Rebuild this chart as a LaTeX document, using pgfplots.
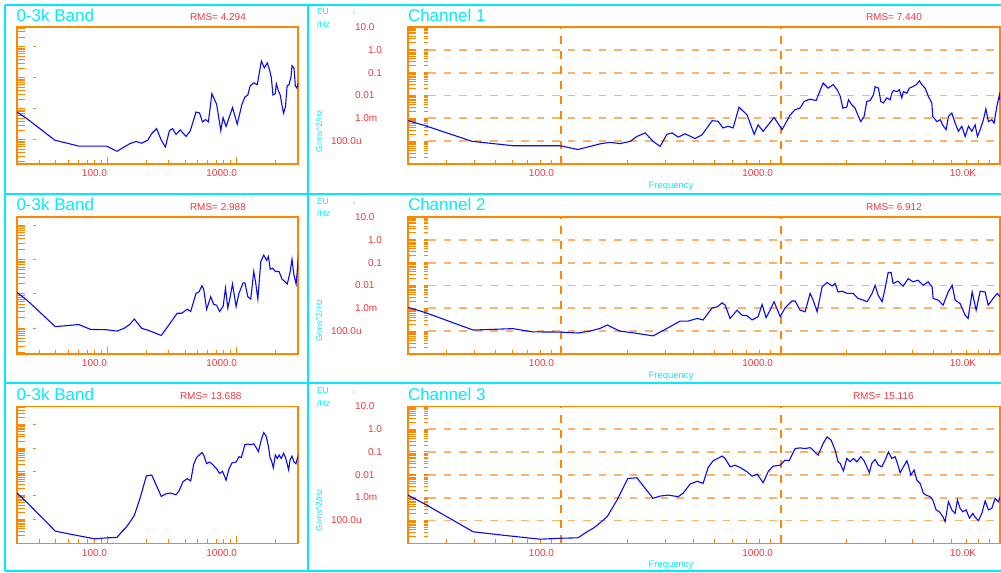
\documentclass[border=0pt]{standalone}
\usepackage{pgfplots}
\usepackage{pgfplotstable}
\pgfplotsset{compat=1.18}
\usepackage{fontspec}
\setmainfont{Liberation Sans}
\definecolor{cy}{RGB}{0,235,255}
\definecolor{rd}{RGB}{245,55,60}
\definecolor{orA}{RGB}{255,135,0}
\definecolor{orG}{RGB}{255,178,105}
\definecolor{bl}{RGB}{10,10,240}
\newcommand\fs[1]{\fontsize{#1bp}{#1bp}\selectfont}

\pgfplotstableread{
f p
20 7.9e-4
23.9 4.8e-4
39.2 9.8e-5
60.2 6.3e-5
98.6 6.3e-5
119 4.3e-5
150 7.6e-5
167 8.9e-5
185 7.8e-5
206 9.8e-5
221 1.6e-4
241 2.3e-4
262 9.8e-5
282 5.9e-5
303 2.0e-4
320 2.3e-4
341 1.5e-4
367 2.1e-4
407 1.3e-4
438 1.9e-4
487 7.9e-4
518 7.4e-4
546 3.8e-4
576 4.5e-4
607 3.8e-4
646 3.1e-3
703 1.4e-3
757 2.0e-4
789 5.2e-4
832 2.7e-4
933 1.1e-3
1015 3.2e-4
1104 1.4e-3
1164 2.4e-3
1226 2.8e-3
1279 5.5e-3
1362 6.9e-3
1451 6.0e-3
1561 3.5e-2
1645 2.1e-2
1734 3.0e-2
1808 1.8e-2
1866 9.8e-3
1920 2.8e-3
2002 3.1e-3
2037 6.5e-3
2110 3.9e-3
2184 2.8e-3
2262 1.2e-3
2319 7.2e-4
2400 1.2e-3
2470 5.5e-3
2557 6.0e-3
2648 1.07e-2
2695 2.45e-2
2790 2.1e-2
2861 5.5e-3
2940 4.7e-3
3047 7.8e-3
3155 6.5e-3
3212 1.26e-2
3266 1.66e-2
3385 1.48e-2
3478 1.78e-2
3567 7.8e-3
3628 1.48e-2
3760 1.26e-2
3864 2.1e-2
4004 2.45e-2
4146 2.95e-2
4291 4.4e-2
4400 2.95e-2
4556 2.1e-2
4716 9.1e-3
4887 4.7e-3
4938 1.2e-3
5151 7.2e-4
5333 8.7e-4
5521 4.5e-4
5680 3.2e-4
5819 1.2e-3
6030 1.7e-3
6241 6.2e-4
6463 2.7e-4
6697 4.5e-4
6934 1.6e-4
7178 4.5e-4
7440 2.7e-4
7700 5.2e-4
7889 1.6e-4
8118 3.2e-4
8403 8.7e-4
8618 2.6e-3
8855 7.2e-4
9176 8.7e-4
9400 6.2e-4
9670 3.3e-3
9940 1.07e-2
10000 6.5e-3
}\chA

\pgfplotstableread{
f p
20 1.1e-3
23.9 6.6e-4
39.6 1.12e-4
48.8 1.2e-4
60.2 1.29e-4
74.3 9.3e-5
98.6 9.1e-5
119 8.3e-5
135 1.0e-4
150 1.32e-4
162 1.86e-4
185 1.0e-4
212 8.5e-5
262 6.2e-5
303 1.32e-4
348 2.75e-4
378 2.75e-4
416 3.6e-4
443 3.1e-4
487 1.05e-3
513 1.15e-3
541 1.74e-3
558 1.38e-3
588 3.6e-4
633 8.3e-4
667 5.0e-4
703 4.7e-4
741 3.1e-4
789 4.3e-4
823 1.48e-3
858 3.9e-4
895 8.3e-4
933 1.95e-3
995 4.3e-4
1047 1.05e-3
1127 2.1e-3
1164 2.1e-3
1226 8.3e-4
1292 7.1e-4
1362 4.5e-3
1406 2.3e-3
1466 7.1e-4
1545 8.7e-3
1628 1.35e-2
1716 9.5e-3
1771 1.23e-2
1827 5.2e-3
1906 5.6e-3
2009 4.5e-3
2140 4.5e-3
2255 2.7e-3
2376 2.3e-3
2478 1.95e-3
2611 4.5e-3
2695 1.02e-2
2781 3.8e-3
2900 1.95e-3
2993 7.4e-3
3090 3.7e-2
3188 3.7e-2
3255 1.23e-2
3430 1.55e-2
3615 9.3e-3
3810 2.0e-2
4016 1.45e-2
4233 1.7e-2
4462 1.02e-2
4700 1.45e-2
4903 8.7e-3
4955 2.7e-3
5223 2.3e-3
5504 1.38e-3
5800 5.2e-3
6050 1.02e-2
6241 2.3e-3
6577 1.62e-3
6934 5.0e-4
7154 3.6e-4
7464 5.2e-3
7785 8.3e-4
8118 5.6e-3
8551 5.2e-3
8828 1.38e-3
9303 2.7e-3
9700 4.5e-3
10000 3.2e-3
}\chB

\pgfplotstableread{
f p
20 1.29e-3
23.9 5.2e-4
39.6 3.2e-5
52.5 2.34e-5
80 1.51e-5
98.6 1.66e-5
119 1.74e-5
131 3.2e-5
140 4.6e-5
150 7.8e-5
162 1.48e-4
179.5 7.9e-4
201 6.9e-3
221 7.4e-3
241 2.57e-3
262 9.3e-4
282 1.17e-3
307 1.29e-3
341 1.1e-3
359 1.55e-3
386 3.9e-3
416 5.2e-3
443 4.2e-3
467 2.1e-2
492 4.1e-2
541 6.6e-2
558 5.2e-2
588 2.24e-2
619 2.63e-2
653 2.1e-2
703 1.35e-2
741 8.7e-3
781 1.07e-2
832 4.5e-3
876 1.35e-2
923 2.4e-2
995 2.63e-2
1047 4.4e-2
1092 4.1e-2
1164 0.141
1226 0.151
1292 0.141
1362 0.155
1406 0.12
1481 7.2e-2
1561 0.234
1628 0.457
1698 0.331
1771 0.12
1827 3.7e-2
1866 3.2e-2
1932 1.48e-2
2002 5.2e-2
2073 3.7e-2
2146 5.2e-2
2224 3.7e-2
2319 6.2e-2
2400 4.1e-2
2470 2.24e-2
2538 1.23e-2
2603 3.2e-2
2695 4.7e-2
2790 2.63e-2
2891 2.24e-2
2993 4.4e-2
3099 0.1
3212 5.2e-2
3325 6.2e-2
3406 3.2e-2
3504 1.23e-2
3628 2.24e-2
3760 4.1e-2
3823 2.63e-2
3920 9.8e-3
4059 1.62e-2
4175 5.9e-3
4323 4.2e-3
4475 1.55e-3
4604 1.29e-3
4800 1.1e-3
4938 7.9e-4
5113 2.9e-4
5294 2.4e-4
5486 1.48e-4
5620 8.9e-5
5819 6.6e-4
6030 2.9e-4
6241 2.04e-4
6395 7.9e-4
6577 3.4e-4
6767 2.4e-4
7007 2.9e-4
7253 1.26e-4
7516 2.04e-4
7700 1.38e-4
7975 9.8e-5
8265 2.04e-4
8555 7.2e-4
8855 2.9e-4
9176 3.4e-4
9500 9.3e-4
9835 6.6e-4
10000 1.1e-3
}\chC

\tikzset{
  tk/.style={draw=orA, line width=1bp},
  gh/.style={draw=orG, line width=1.8bp, dash pattern=on 7.5bp off 8bp},
  gv/.style={draw=orA, line width=1.7bp, dash pattern=on 8bp off 7bp},
  lab/.style={inner sep=0pt, outer sep=0pt}
}

\newcommand\ytA[1]{\draw[tk] (axis cs:20,1e#1)--++(8bp,0bp) (axis cs:20,2e#1)--++(8bp,0bp) (axis cs:20,3e#1)--++(8bp,0bp) (axis cs:20,4e#1)--++(8bp,0bp) (axis cs:20,5e#1)--++(8bp,0bp) (axis cs:20,6e#1)--++(8bp,0bp) (axis cs:20,7e#1)--++(8bp,0bp) (axis cs:20,8e#1)--++(8bp,0bp) (axis cs:20,9e#1)--++(8bp,0bp);}
\newcommand\ytB[1]{\draw[tk] ([xshift=16bp]axis cs:20,1e#1)--++(4bp,0bp) ([xshift=16bp]axis cs:20,2e#1)--++(4bp,0bp) ([xshift=16bp]axis cs:20,3e#1)--++(4bp,0bp) ([xshift=16bp]axis cs:20,4e#1)--++(4bp,0bp) ([xshift=16bp]axis cs:20,5e#1)--++(4bp,0bp) ([xshift=16bp]axis cs:20,6e#1)--++(4bp,0bp) ([xshift=16bp]axis cs:20,7e#1)--++(4bp,0bp) ([xshift=16bp]axis cs:20,8e#1)--++(4bp,0bp) ([xshift=16bp]axis cs:20,9e#1)--++(4bp,0bp);}
\newcommand\ydec[1]{\draw[tk] ([xshift=16bp]axis cs:20,1e#1)--++(2.5bp,0bp);}
\newcommand\xtk[2]{\draw[tk] ({axis cs:#1,1}|-{rel axis cs:0,0})--++(0bp,#2bp);}
\newcommand\xtL{\xtk{30}{4}\xtk{40}{4}\xtk{50}{4}\xtk{60}{4}\xtk{70}{4}\xtk{80}{4}\xtk{90}{4}\xtk{100}{7}\xtk{200}{4}\xtk{300}{4}\xtk{400}{4}\xtk{500}{4}\xtk{600}{4}\xtk{700}{4}\xtk{800}{4}\xtk{900}{4}\xtk{1000}{7}\xtk{2000}{4}\xtk{3000}{4}}
\newcommand\xtR{\xtk{30}{4}\xtk{40}{4}\xtk{50}{4}\xtk{60}{4}\xtk{70}{4}\xtk{80}{4}\xtk{90}{4}\xtk{200}{4}\xtk{300}{4}\xtk{400}{4}\xtk{500}{4}\xtk{600}{4}\xtk{700}{4}\xtk{800}{4}\xtk{900}{4}\xtk{2000}{4}\xtk{3000}{4}\xtk{4000}{4}\xtk{5000}{4}\xtk{6000}{4}\xtk{7000}{4}\xtk{8000}{4}\xtk{9000}{4}}
\newcommand\hg[1]{\draw[gh] ({rel axis cs:0,0}|-{axis cs:20,#1}) ++(20bp,0bp) -- ({rel axis cs:1,0}|-{axis cs:20,#1});}
\newcommand\gridR{\hg{1}\hg{0.1}\hg{0.01}\hg{0.001}\hg{0.0001}%
  \draw[gv] ({axis cs:100,1}|-{rel axis cs:0,0})--({axis cs:100,1}|-{rel axis cs:0,1});%
  \draw[gv] ({axis cs:1000,1}|-{rel axis cs:0,0})--({axis cs:1000,1}|-{rel axis cs:0,1});}

\begin{document}
\begin{tikzpicture}[x=1bp,y=1bp]
\path[use as bounding box] (0,0) rectangle (1001,573);

% frame
\draw[cy, line width=1.8bp] (5,568) -- (1001,568);
\draw[cy, line width=1.8bp] (5,568) -- (5,2);
\draw[cy, line width=1.8bp] (5,2) -- (1001,2);
\draw[cy, line width=1.8bp] (308,568) -- (308,2);
\draw[cy, line width=1.8bp] (5,378.7) -- (1001,378.7);
\draw[cy, line width=1.8bp] (5,189.6) -- (1001,189.6);

% ---- row 1
\begin{axis}[xmode=log, ymode=log, scale only axis, anchor=south west, xtick=\empty, ytick=\empty, major tick length=0pt, minor tick length=0pt, axis line style={draw=orA, line width=1.3bp}, width=281bp, height=137bp, xmin=20, xmax=3000, at={(17bp,409bp)}, ymin=1.67e-5, ymax=0.435]
\pgfplotsinvokeforeach{-5,-4,-3,-2,-1}{\ytA{#1}}
\pgfplotsinvokeforeach{-4,-3,-2,-1}{\ydec{#1}}
\xtL
\addplot[draw=bl, line width=1.1bp, mark=none] table[x=f,y=p] {\chA};
\end{axis}
\begin{axis}[xmode=log, ymode=log, scale only axis, anchor=south west, xtick=\empty, ytick=\empty, major tick length=0pt, minor tick length=0pt, axis line style={draw=orA, line width=1.3bp}, width=592bp, height=137bp, xmin=20, xmax=10000, ymin=1e-5, ymax=10, at={(408bp,409bp)}]
\gridR
\pgfplotsinvokeforeach{-5,-4,-3,-2,-1,0}{\ytA{#1}\ytB{#1}}
\xtR
\addplot[draw=bl, line width=1.1bp, mark=none] table[x=f,y=p] {\chA};
\end{axis}

% ---- row 2
\begin{axis}[xmode=log, ymode=log, scale only axis, anchor=south west, xtick=\empty, ytick=\empty, major tick length=0pt, minor tick length=0pt, axis line style={draw=orA, line width=1.3bp}, width=281bp, height=137bp, xmin=20, xmax=3000, at={(17bp,219bp)}, ymin=1.79e-5, ymax=0.174]
\pgfplotsinvokeforeach{-5,-4,-3,-2,-1}{\ytA{#1}}
\pgfplotsinvokeforeach{-4,-3,-2,-1}{\ydec{#1}}
\xtL
\addplot[draw=bl, line width=1.1bp, mark=none] table[x=f,y=p] {\chB};
\end{axis}
\begin{axis}[xmode=log, ymode=log, scale only axis, anchor=south west, xtick=\empty, ytick=\empty, major tick length=0pt, minor tick length=0pt, axis line style={draw=orA, line width=1.3bp}, width=592bp, height=137bp, xmin=20, xmax=10000, ymin=1e-5, ymax=10, at={(408bp,219bp)}]
\gridR
\pgfplotsinvokeforeach{-5,-4,-3,-2,-1,0}{\ytA{#1}\ytB{#1}}
\xtR
\addplot[draw=bl, line width=1.1bp, mark=none] table[x=f,y=p] {\chB};
\end{axis}

% ---- row 3
\begin{axis}[xmode=log, ymode=log, scale only axis, anchor=south west, xtick=\empty, ytick=\empty, major tick length=0pt, minor tick length=0pt, axis line style={draw=orA, line width=1.3bp}, width=281bp, height=137bp, xmin=20, xmax=3000, at={(17bp,29.7bp)}, ymin=9.8e-6, ymax=5.9]
\pgfplotsinvokeforeach{-5,-4,-3,-2,-1,0}{\ytA{#1}}
\pgfplotsinvokeforeach{-4,-3,-2,-1,0}{\ydec{#1}}
\xtL
\addplot[draw=bl, line width=1.1bp, mark=none] table[x=f,y=p] {\chC};
\end{axis}
\begin{axis}[xmode=log, ymode=log, scale only axis, anchor=south west, xtick=\empty, ytick=\empty, major tick length=0pt, minor tick length=0pt, axis line style={draw=orA, line width=1.3bp}, width=592bp, height=137bp, xmin=20, xmax=10000, ymin=1e-5, ymax=10, at={(408bp,29.7bp)}]
\gridR
\pgfplotsinvokeforeach{-5,-4,-3,-2,-1,0}{\ytA{#1}\ytB{#1}}
\xtR
\addplot[draw=bl, line width=1.1bp, mark=none] table[x=f,y=p] {\chC};
\end{axis}

% ---- texts
\foreach \tb/\bb/\n/\rl/\rr/\xl/\xr in {546/409/1/4.294/7.440/190/866, 356.3/219/2/2.988/6.912/190/866, 167/29.7/3/13.688/15.116/180/853}{
  \node[lab,anchor=west,text=cy,font=\fs{17}] at (16.5,\tb+12) {0-3k Band};
  \node[lab,anchor=west,text=cy,font=\fs{17}] at (408,\tb+12) {Channel \n};
  \node[lab,anchor=west,text=rd,font=\fs{10}] at (\xl,\tb+10) {RMS= \rl};
  \node[lab,anchor=west,text=rd,font=\fs{10}] at (\xr,\tb+10) {RMS= \rr};
  \node[lab,anchor=west,text=cy,font=\fs{8.5}] at (317,\tb+15) {EU};
  \node[lab,anchor=west,text=cy,font=\fs{8.5}] at (317,\tb+3) {/Hz};
  \node[lab,text=cy,font=\fs{4}] at (354,\tb+14) {2};
  \node[lab,rotate=90,text=cy,font=\fs{8.5}] at (319,\tb-104) {Grms\textasciicircum 2/Hz};
  \node[lab,anchor=base,text=cy,font=\fs{9.5}] at (671,\bb-24.4) {Frequency};
  \node[lab,anchor=east,text=rd,font=\fs{10}] at (107,\bb-9.3) {100.0};
  \node[lab,anchor=east,text=rd,font=\fs{10}] at (237,\bb-9.3) {1000.0};
  \node[lab,anchor=east,text=rd,font=\fs{10}] at (554,\bb-9.3) {100.0};
  \node[lab,anchor=east,text=rd,font=\fs{10}] at (773,\bb-9.3) {1000.0};
  \node[lab,anchor=east,text=rd,font=\fs{10}] at (976,\bb-9.3) {10.0K};
  \node[lab,anchor=west,text=rd,font=\fs{10}] at (355,\bb+137) {10.0};
  \node[lab,anchor=west,text=rd,font=\fs{10}] at (368,\bb+114.2) {1.0};
  \node[lab,anchor=west,text=rd,font=\fs{10}] at (368,\bb+91.4) {0.1};
  \node[lab,anchor=west,text=rd,font=\fs{10}] at (355,\bb+68.6) {0.01};
  \node[lab,anchor=west,text=rd,font=\fs{10}] at (355,\bb+45.8) {1.0m};
  \node[lab,anchor=west,text=rd,font=\fs{10}] at (331,\bb+22.9) {100.0u};
}
\end{tikzpicture}
\end{document}
